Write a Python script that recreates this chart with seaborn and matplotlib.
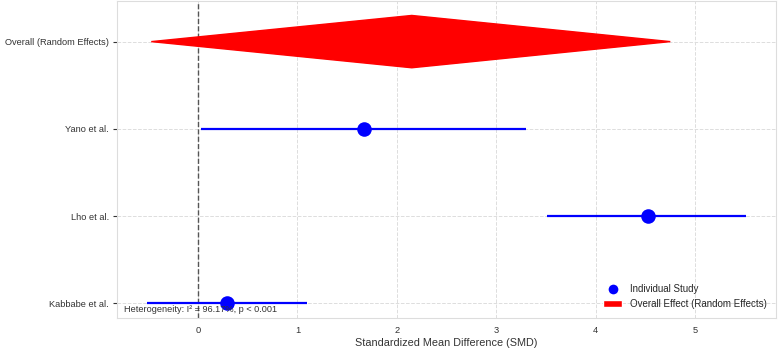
import numpy as np
import pandas as pd
import seaborn as sns
import matplotlib.pyplot as plt
from matplotlib.patches import Patch
from matplotlib.lines import Line2D

# Study-level data
studies = ['Kabbabe et al.', 'Lho et al.', 'Yano et al.']
smd = [0.29, 4.53, 1.67]
ci_lower = [-0.51, 3.51, 0.03]
ci_upper = [1.10, 5.51, 3.30]

# Pooled random-effects estimate
overall_label = 'Overall (Random Effects)'
overall_smd = 2.15
overall_lower = -0.47
overall_upper = 4.75

heterogeneity_text = 'Heterogeneity: I² = 96.17%, p < 0.001'

sns.set_style('whitegrid')
plt.rcParams['font.family'] = ['Liberation Sans', 'DejaVu Sans']

df = pd.DataFrame({'study': studies, 'smd': smd, 'lower': ci_lower, 'upper': ci_upper})
df['y'] = np.arange(len(df))
overall_y = len(df)

fig, ax = plt.subplots(figsize=(7.78, 3.51), dpi=100)

# Confidence intervals
ax.hlines(df['y'], df['lower'], df['upper'], color='blue', linewidth=1.6, zorder=2)
sns.scatterplot(data=df, x='smd', y='y', color='blue', s=110, edgecolor='blue',
                linewidth=0, zorder=3, ax=ax, legend=False)

# Overall diamond
ax.fill([overall_lower, overall_smd, overall_upper, overall_smd],
        [overall_y, overall_y + 0.3, overall_y, overall_y - 0.3],
        color='red', zorder=3)

ax.axvline(0, color='#555555', linestyle='--', linewidth=1, zorder=1)

ax.set_yticks(list(df['y']) + [overall_y])
ax.set_yticklabels(studies + [overall_label], fontsize=6.7, color='#333333')
ax.set_xticks(range(0, 6))
ax.tick_params(axis='x', labelsize=6.7, colors='#333333', length=3, pad=3)
ax.tick_params(axis='y', length=3, left=True, color='#333333', pad=3)
ax.set_xlim(min(ci_lower) - 0.3, max(ci_upper) + 0.3)
ax.set_ylabel('')
ax.set_xlabel('Standardized Mean Difference (SMD)', fontsize=7.8, color='#333333', labelpad=2)

ax.grid(True, linestyle='--', color='#dddddd', linewidth=0.7)
for spine in ax.spines.values():
    spine.set_color('#dddddd')

ax.text(0.01, 0.012, heterogeneity_text, transform=ax.transAxes, fontsize=6.6, color='#333333',
        va='bottom', ha='left')

handles = [Line2D([0], [0], marker='o', color='w', markerfacecolor='blue', markersize=8,
                  label='Individual Study'),
           Patch(facecolor='red', label='Overall Effect (Random Effects)')]
ax.legend(handles=handles, loc='lower right', fontsize=7, frameon=False)

plt.subplots_adjust(left=0.151, right=0.997, top=0.997, bottom=0.095)
plt.savefig('out.png', dpi=100)
